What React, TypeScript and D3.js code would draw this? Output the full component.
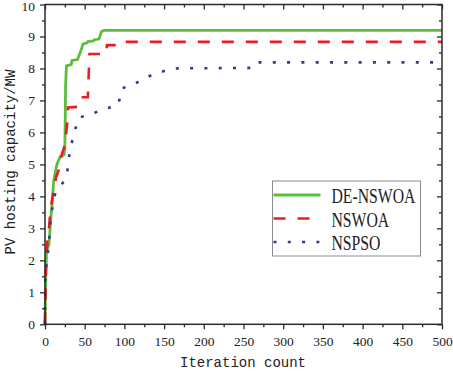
import * as d3 from 'd3';
import React, { useEffect, useRef } from 'react';

// convergence curves: [iteration, PV hosting capacity (MW)]
const deNswoa: [number, number][] = [
    [0, 0], [1, 1.5], [2, 2.3], [5, 2.5], [7, 3.2], [9, 3.8], [11, 4.5], [15, 5.0],
    [19, 5.24], [24, 5.3], [25, 5.5], [26, 7.5], [27, 8.08], [33, 8.12], [34, 8.25],
    [41, 8.28], [45, 8.55], [48, 8.77], [53, 8.8], [54, 8.84], [61, 8.86], [62, 8.9],
    [68, 8.92], [71, 9.15], [74, 9.19], [500, 9.19],
];
const nswoa: [number, number][] = [
    [0, 0], [1, 1.5], [2, 2.2], [3, 2.6], [5, 3.0], [7, 3.6], [9, 3.9], [11, 4.2],
    [14, 4.6], [17, 4.8], [21, 5.3], [25, 5.6], [28, 6.3], [29, 6.78], [42, 6.8],
    [45, 7.1], [54, 7.1], [56, 8.45], [77, 8.45], [78, 8.73], [95, 8.73], [97, 8.83],
    [500, 8.83],
];
const nspso: [number, number][] = [
    [0, 0], [0.5, 1.5], [2, 2.0], [5, 2.45], [6, 2.9], [7, 3.3], [10, 3.75], [13, 4.1],
    [18, 4.3], [25, 4.5], [28, 4.75], [30, 5.2], [33, 5.6], [37, 6.0], [42, 6.45],
    [50, 6.52], [60, 6.58], [70, 6.7], [85, 6.8], [92, 6.85], [94, 7.05], [97, 7.38],
    [110, 7.47], [122, 7.65], [135, 7.8], [150, 7.92], [160, 8.0], [262, 8.02],
    [266, 8.19], [500, 8.19],
];

const seriesNames = ['DE-NSWOA', 'NSWOA', 'NSPSO'];
const xTicks = [0, 50, 100, 150, 200, 250, 300, 350, 400, 450, 500];
const yTicks = [0, 1, 2, 3, 4, 5, 6, 7, 8, 9, 10];
const xLabel = 'Iteration count';
const yLabel = 'PV hosting capacity/MW';

const W = 453;
const H = 371;
const margin = { top: 4.5, right: 11, bottom: 46.7, left: 45 };

const styles = [
    { color: '#5cbd3c', dash: null, width: 2.8 },
    { color: '#ec1c24', dash: '12 12', width: 2.6 },
    { color: '#2e3b8e', dash: '3 11.3', width: 2.6 },
];

const App = () => {
    const ref = useRef<SVGSVGElement>(null);

    useEffect(() => {
        const root = d3.select(ref.current);
        root.selectAll('*').remove();

        const width = W - margin.left - margin.right;
        const height = H - margin.top - margin.bottom;

        const x = d3.scaleLinear().domain([0, 500]).range([0, width]);
        const y = d3.scaleLinear().domain([0, 10]).range([height, 0]);

        const svg = root.append('g').attr('transform', `translate(${margin.left},${margin.top})`);

        const line = d3.line<[number, number]>()
            .x(d => x(d[0]))
            .y(d => y(d[1]));

        [deNswoa, nswoa, nspso].forEach((data, i) => {
            const s = styles[i];
            svg.append('path')
                .datum(data)
                .attr('fill', 'none')
                .attr('stroke', s.color)
                .attr('stroke-width', s.width)
                .attr('stroke-dasharray', s.dash)
                .attr('d', line);
        });

        const xMinor = d3.range(25, 500, 50);
        const yMinor = d3.range(0.5, 10, 1);
        const axisColor = '#2b2b2b';

        const styleAxis = (g, labels) => {
            g.select('.domain').remove();
            g.selectAll('line').attr('stroke', axisColor).attr('stroke-width', 1.3);
            g.selectAll('text')
                .attr('fill', '#222')
                .style('font-family', '"Liberation Serif", "Times New Roman", serif')
                .style('font-size', '13.5px');
            if (!labels) g.selectAll('text').remove();
        };

        // bottom: outward ticks
        svg.append('g').attr('transform', `translate(0,${height})`)
            .call(d3.axisBottom(x).tickValues(xTicks).tickSize(5).tickPadding(7))
            .call(g => styleAxis(g, true));
        svg.append('g').attr('transform', `translate(0,${height})`)
            .call(d3.axisBottom(x).tickValues(xMinor).tickSize(3))
            .call(g => styleAxis(g, false));

        // left: outward ticks
        svg.append('g')
            .call(d3.axisLeft(y).tickValues(yTicks).tickSize(5).tickPadding(5))
            .call(g => styleAxis(g, true))
            // keep the top label inside the svg
            .call(g => g.selectAll('text').filter(d => d === 10).attr('dy', '0.42em'));
        svg.append('g')
            .call(d3.axisLeft(y).tickValues(yMinor).tickSize(3))
            .call(g => styleAxis(g, false));

        // top and right: inward ticks, no labels
        svg.append('g')
            .call(d3.axisTop(x).tickValues(xTicks).tickSize(-5))
            .call(g => styleAxis(g, false));
        svg.append('g')
            .call(d3.axisTop(x).tickValues(xMinor).tickSize(-3))
            .call(g => styleAxis(g, false));
        svg.append('g').attr('transform', `translate(${width},0)`)
            .call(d3.axisRight(y).tickValues(yTicks).tickSize(-5))
            .call(g => styleAxis(g, false));
        svg.append('g').attr('transform', `translate(${width},0)`)
            .call(d3.axisRight(y).tickValues(yMinor).tickSize(-3))
            .call(g => styleAxis(g, false));

        svg.append('rect')
            .attr('width', width)
            .attr('height', height)
            .attr('fill', 'none')
            .attr('stroke', axisColor)
            .attr('stroke-width', 1.5);

        // axis titles
        const mono = '"Liberation Mono", "DejaVu Sans Mono", monospace';
        root.append('text')
            .attr('x', 243)
            .attr('y', 367)
            .attr('text-anchor', 'middle')
            .attr('fill', '#222')
            .style('font-family', mono)
            .style('font-size', '14px')
            .text(xLabel);

        root.append('text')
            .attr('transform', 'translate(15,162) rotate(-90)')
            .attr('text-anchor', 'middle')
            .attr('fill', '#222')
            .style('font-family', mono)
            .style('font-size', '14px')
            .text(yLabel);

        // legend
        const legend = root.append('g').attr('transform', 'translate(272.5,181)');
        legend.append('rect')
            .attr('width', 148)
            .attr('height', 75)
            .attr('fill', 'white')
            .attr('stroke', '#8a8a8a')
            .attr('stroke-width', 1);

        seriesNames.forEach((name, i) => {
            const s = styles[i];
            const row = legend.append('g').attr('transform', `translate(0,${14 + i * 23.5})`);
            row.append('line')
                .attr('x1', 1)
                .attr('x2', 48)
                .attr('stroke', s.color)
                .attr('stroke-width', s.width)
                .attr('stroke-dasharray', s.dash);
            row.append('text')
                .attr('transform', 'translate(59,8) scale(0.75,1)')
                .attr('fill', '#222')
                .style('font-family', '"Liberation Serif", "Times New Roman", serif')
                .style('font-size', '21px')
                .text(name);
        });
    }, []);

    return (
        <svg
            ref={ref}
            width={W}
            height={H}
            style={{ position: 'absolute', left: 0, top: 0, background: 'white' }}
        />
    );
};

export default App;
